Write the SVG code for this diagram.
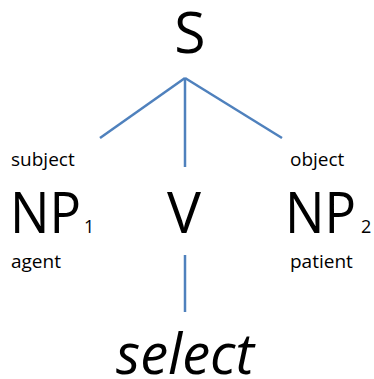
<svg xmlns="http://www.w3.org/2000/svg" width="374" height="379" viewBox="0 0 374 379">
  <style>
    text { font-family: "Open Sans", "Liberation Sans", sans-serif; fill: #000; }
    .big { font-size: 57px; }
    .role { font-size: 19px; }
    .sub { font-size: 18px; }
    .word { font-size: 56px; font-style: italic; }
    .edge { stroke: #4f81bd; stroke-width: 2.5; fill: none; stroke-linecap: butt; }
  </style>
  <rect width="374" height="379" fill="#fff"/>

  <g id="connectors">
    <line class="edge" x1="185" y1="78" x2="100" y2="138"/>
    <line class="edge" x1="185" y1="78" x2="185" y2="167"/>
    <line class="edge" x1="185" y1="78" x2="282" y2="138"/>
    <line class="edge" x1="185" y1="255" x2="185" y2="312"/>
  </g>

  <g id="node-S">
    <text class="big" x="190" y="53" text-anchor="middle">S</text>
  </g>

  <g id="node-NP1">
    <text class="role" x="11" y="166">subject</text>
    <text class="big" x="10" y="233" textLength="71" lengthAdjust="spacingAndGlyphs">NP</text>
    <text class="sub" x="84" y="233">1</text>
    <text class="role" x="11" y="268">agent</text>
  </g>

  <g id="node-V">
    <text class="big" x="184" y="233" text-anchor="middle">V</text>
  </g>

  <g id="node-NP2">
    <text class="role" x="290" y="166">object</text>
    <text class="big" x="285" y="233" textLength="71" lengthAdjust="spacingAndGlyphs">NP</text>
    <text class="sub" x="361" y="233">2</text>
    <text class="role" x="290" y="268">patient</text>
  </g>

  <g id="node-select">
    <text class="word" x="185" y="374" text-anchor="middle">select</text>
  </g>
</svg>
